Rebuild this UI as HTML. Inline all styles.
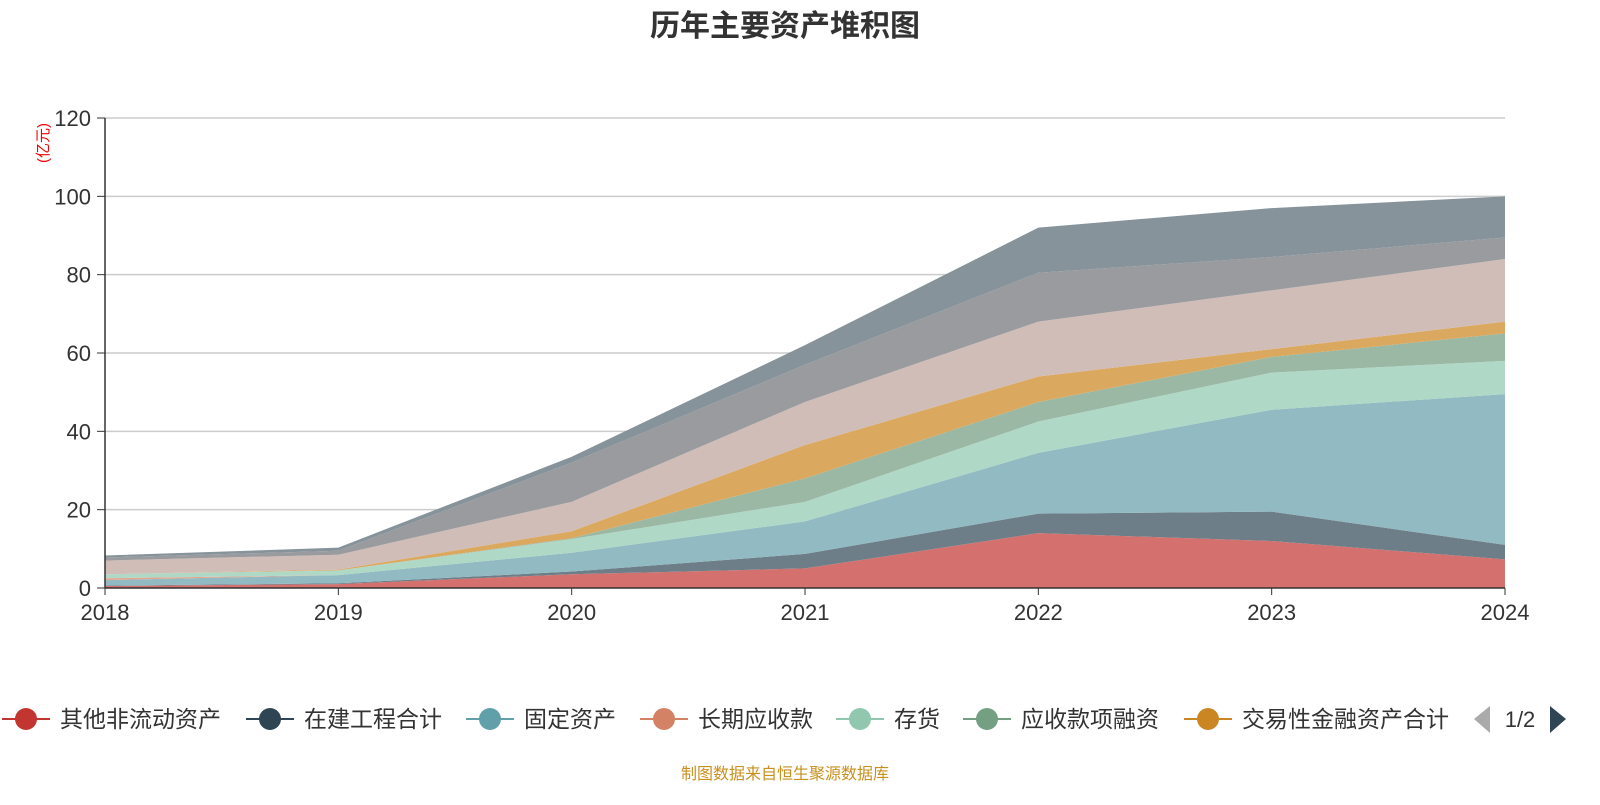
<!DOCTYPE html>
<html><head><meta charset="utf-8"><style>
body{margin:0;background:#fff;width:1600px;height:800px;overflow:hidden;font-family:"Liberation Sans","Noto Sans CJK SC",sans-serif}
</style></head><body>
<svg id="c" width="1600" height="800" xmlns="http://www.w3.org/2000/svg">
<text x="785" y="36" text-anchor="middle" font-size="30" font-weight="bold" fill="#333">历年主要资产堆积图</text>
<text transform="translate(48,143) rotate(-90)" text-anchor="middle" font-size="15" fill="#e00">(亿元)</text>
<g id="grid"></g><g id="areas"></g><g id="axes"></g>
<g id="legend"></g>
<text x="785" y="779" text-anchor="middle" font-size="16" fill="#c8901e">制图数据来自恒生聚源数据库</text>
</svg>
<script>
const years=['2018','2019','2020','2021','2022','2023','2024'];
const yTicks=[0,20,40,60,80,100,120];
const otherNonCurrent=[0.5,1,3.5,5,14,12,7.3];
const construction=[0.1,0.2,0.7,3.7,5,7.5,3.7];
const fixedAssets=[1.4,2.1,4.8,8.3,15.5,26,38.5];
const longTermRecv=[0.5,0,0,0,0,0,0];
const inventory=[1,1.2,3.5,5,8,9.5,8.5];
const recvFinancing=[0,0,0.2,6,5,4,7];
const tradingAssets=[0,0.2,1.8,8.5,6.5,2,3];
const layer8=[3.5,3.8,7.5,11,14,15,16];
const layer9=[0.8,1,10,9.5,12.5,8.5,5.5];
const layer10=[0.5,0.8,1.5,5,11.5,12.5,10.5];
const series=[otherNonCurrent,construction,fixedAssets,longTermRecv,inventory,recvFinancing,tradingAssets,layer8,layer9,layer10];
const fills=['#d4706e','#6e7e88','#91bac2','#e2a790','#b0d8c6','#9bb8a4','#dba85f','#d1bdb8','#9a9b9f','#87939a'];
const legendNames=['其他非流动资产','在建工程合计','固定资产','长期应收款','存货','应收款项融资','交易性金融资产合计'];
const legendColors=['#c23531','#2f4554','#61a0a8','#d48265','#91c7ae','#749f83','#ca8622'];
const NS='http://www.w3.org/2000/svg';
const X0=105,X1=1505,Y0=588,Y1=118;
const xs=i=>X0+i*(X1-X0)/(years.length-1);
const ys=v=>Y0-v*(Y0-Y1)/120;
function mk(t,a,p){const e=document.createElementNS(NS,t);for(const k in a)e.setAttribute(k,a[k]);p.appendChild(e);return e;}
const grid=document.getElementById('grid'),axes=document.getElementById('axes'),areas=document.getElementById('areas'),leg=document.getElementById('legend');
yTicks.forEach(v=>{
 if(v>0){const l=mk('line',{x1:X0,x2:X1,y1:ys(v),y2:ys(v),stroke:'#ccc','stroke-width':1.5},grid);
 
 }
 mk('line',{x1:X0-8,x2:X0,y1:ys(v),y2:ys(v),stroke:'#333'},axes);
 const t=mk('text',{x:X0-14,y:ys(v)+8,'text-anchor':'end','font-size':22,fill:'#333'},axes);t.textContent=v;
 
 
});
let base=years.map(()=>0);
series.forEach((s,k)=>{
 const top=base.map((b,i)=>b+s[i]);
 let d='M'+top.map((v,i)=>xs(i)+','+ys(v)).join('L');
 for(let i=years.length-1;i>=0;i--)d+='L'+xs(i)+','+ys(base[i]);
 const p=mk('path',{d:d+'Z',fill:fills[k]},areas);
 
 
 base=top;
});
mk('line',{x1:X0,x2:X0,y1:Y1,y2:Y0,stroke:'#333','stroke-width':1.5},axes);
mk('line',{x1:X0,x2:X1,y1:Y0,y2:Y0,stroke:'#333','stroke-width':1.5},axes);
years.forEach((y,i)=>{
 mk('line',{x1:xs(i),x2:xs(i),y1:Y0,y2:Y0+7,stroke:'#333'},axes);
 const t=mk('text',{x:xs(i),y:Y0+32,'text-anchor':'middle','font-size':22,fill:'#333'},axes);t.textContent=y;
 
 
});
const lx=[2,246,466,640,836,963,1184];
legendNames.forEach((n,i)=>{
 const g=mk('g',{},leg);
 
 
 mk('line',{x1:lx[i],x2:lx[i]+48,y1:719,y2:719,stroke:legendColors[i],'stroke-width':2},g);
 mk('circle',{cx:lx[i]+24,cy:719,r:11,fill:legendColors[i]},g);
 const t=mk('text',{x:lx[i]+58,y:727,'font-size':23,fill:'#333'},g);t.textContent=n;
});
const pl=mk('path',{d:'M1490,706L1474,719L1490,733Z',fill:'#aaa'},leg);


const pt=mk('text',{x:1520,y:727,'text-anchor':'middle','font-size':22,fill:'#333'},leg);pt.textContent='1/2';


const pn=mk('path',{d:'M1550,706L1566,719L1550,733Z',fill:'#2f4554'},leg);


</script>
</body></html>
